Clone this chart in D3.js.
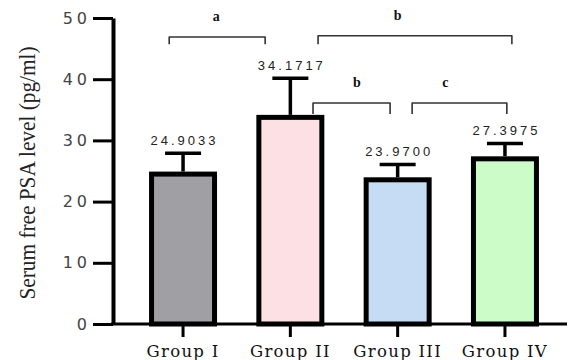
<!DOCTYPE html>
<html>
<head>
<meta charset="utf-8">
<script src="https://cdn.jsdelivr.net/npm/d3@7"></script>
<style>
  body { margin: 0; background: #fff; }
  svg { display: block; }
</style>
</head>
<body>
<div id="chart"></div>
<script>
// Chart data
var groups = ["Group I", "Group II", "Group III", "Group IV"];
var means = [24.9033, 34.1717, 23.97, 27.3975];
var errors = [3.0, 6.0, 2.1, 2.1];
var meanLabels = ["24.9033", "34.1717", "23.9700", "27.3975"];
var fills = ["#a09fa4", "#fde0e3", "#c6dcf5", "#ccfcc8"];
var yTicks = [0, 10, 20, 30, 40, 50];

// Significance brackets: from/to group, fraction within band, height in data units
var brackets = [
  { label: "a", g1: 0, f1: 0.28, g2: 1, f2: 0.1, top: 46.9, leg: 45.7, pos: 0.49 },
  { label: "b", g1: 1, f1: 0.94, g2: 3, f2: 0.61, top: 47.1, leg: 45.7, pos: 0.41 },
  { label: "b", g1: 1, f1: 0.86, g2: 2, f2: 0.38, top: 36.1, leg: 34.3, pos: 0.57 },
  { label: "c", g1: 2, f1: 0.73, g2: 3, f2: 0.53, top: 36.1, leg: 34.3, pos: 0.35 }
];

function init() {
  var w = 569;
  var h = 360;
  var axisX = 113;
  var border = 5;

  var svg = d3
    .select("#chart")
    .append("svg")
    .attr("width", w)
    .attr("height", h);

  var x = d3
    .scaleBand()
    .domain(groups)
    .range([129.4, 558.6])
    .paddingInner(0.413)
    .paddingOuter(0.2065);

  var y = d3.scaleLinear().domain([0, 50]).range([324, 18]);

  // Bars (border drawn inside the bar top)
  svg
    .selectAll(".bar")
    .data(groups)
    .enter()
    .append("rect")
    .attr("class", "bar")
    .attr("x", (d) => x(d))
    .attr("y", (d, i) => y(means[i]) + border / 2)
    .attr("width", x.bandwidth())
    .attr("height", (d, i) => y(0) - y(means[i]) - border / 2)
    .attr("fill", (d, i) => fills[i])
    .attr("stroke", "#000")
    .attr("stroke-width", border);

  // Error bars
  var err = svg.append("g").attr("stroke", "#000").attr("stroke-width", 3.5);
  groups.forEach(function (g, i) {
    var cx = x(g) + x.bandwidth() / 2;
    err
      .append("line")
      .attr("x1", cx)
      .attr("x2", cx)
      .attr("y1", y(means[i]))
      .attr("y2", y(means[i] + errors[i]));
    err
      .append("line")
      .attr("x1", cx - 18)
      .attr("x2", cx + 18)
      .attr("y1", y(means[i] + errors[i]))
      .attr("y2", y(means[i] + errors[i]));
  });

  // Mean labels
  svg
    .selectAll(".mean")
    .data(groups)
    .enter()
    .append("text")
    .attr("class", "mean")
    .attr("x", (d) => x(d) + x.bandwidth() / 2 + 1.5)
    .attr("y", (d, i) => y(means[i] + errors[i]) - 8)
    .attr("text-anchor", "middle")
    .attr("font-family", "Liberation Sans, Arial, sans-serif")
    .attr("font-size", "13px")
    .attr("letter-spacing", "3px")
    .attr("fill", "#222")
    .text((d, i) => meanLabels[i]);

  // Y axis
  var yAxis = d3
    .axisLeft(y)
    .tickValues(yTicks)
    .tickSize(20)
    .tickSizeOuter(0)
    .tickPadding(2);

  var yg = svg
    .append("g")
    .attr("transform", "translate(" + axisX + ",0)")
    .call(yAxis);
  yg.select(".domain").attr("stroke-width", 4);
  yg.selectAll(".tick line").attr("stroke-width", 3);
  yg.selectAll(".tick text")
    .attr("font-family", "DejaVu Sans, sans-serif")
    .attr("font-size", "16px")
    .attr("letter-spacing", "4px")
    .attr("fill", "#444");

  // X axis
  svg
    .append("line")
    .attr("x1", axisX - 2)
    .attr("x2", 567)
    .attr("y1", y(0))
    .attr("y2", y(0))
    .attr("stroke", "#000")
    .attr("stroke-width", 3);

  var xAxis = d3.axisBottom(x).tickSize(13).tickSizeOuter(0).tickPadding(8);
  var xg = svg
    .append("g")
    .attr("transform", "translate(0," + y(0) + ")")
    .call(xAxis);
  xg.select(".domain").remove();
  xg.selectAll(".tick line").attr("stroke-width", 3);
  xg.selectAll(".tick text")
    .attr("font-family", "DejaVu Serif, serif")
    .attr("font-size", "16.5px")
    .attr("letter-spacing", "1.3px")
    .attr("fill", "#111");

  // Y axis title
  svg
    .append("text")
    .attr("transform", "translate(35," + 173 + ") rotate(-90)")
    .attr("text-anchor", "middle")
    .attr("font-family", "Liberation Serif, Times New Roman, serif")
    .attr("font-size", "23px")
    .attr("textLength", 253)
    .attr("lengthAdjust", "spacingAndGlyphs")
    .attr("fill", "#222")
    .text("Serum free PSA level (pg/ml)");

  // Significance brackets
  var br = svg.append("g");
  brackets.forEach(function (b) {
    var x1 = x(groups[b.g1]) + x.bandwidth() * b.f1;
    var x2 = x(groups[b.g2]) + x.bandwidth() * b.f2;
    br.append("path")
      .attr(
        "d",
        "M" + x1 + "," + y(b.leg) +
        "L" + x1 + "," + y(b.top) +
        "L" + x2 + "," + y(b.top) +
        "L" + x2 + "," + y(b.leg)
      )
      .attr("fill", "none")
      .attr("stroke", "#333")
      .attr("stroke-width", 1.6)
      .attr("stroke-linejoin", "round");
    br.append("text")
      .attr("x", x1 + (x2 - x1) * b.pos)
      .attr("y", y(b.top) - 16)
      .attr("text-anchor", "middle")
      .attr("font-family", "Liberation Serif, serif")
      .attr("font-weight", "bold")
      .attr("font-size", "14px")
      .attr("fill", "#111")
      .text(b.label);
  });
}

window.onload = init;
</script>
</body>
</html>
